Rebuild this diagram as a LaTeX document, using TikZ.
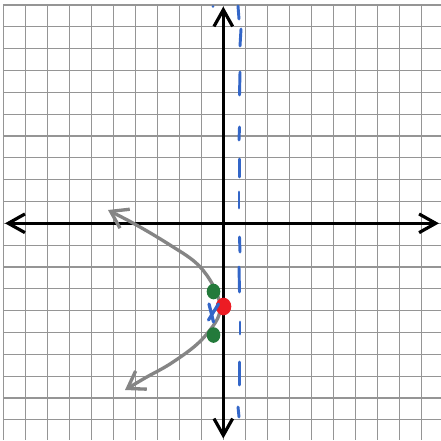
\documentclass[tikz,border=0pt]{standalone}
\usetikzlibrary{arrows.meta}
\definecolor{gridgray}{HTML}{959595}
\definecolor{curvegray}{HTML}{858585}
\definecolor{dotgreen}{HTML}{237A3B}
\definecolor{dotred}{HTML}{EC1C24}
\definecolor{penblue}{HTML}{3366C8}
\tikzset{
  gridline/.style={draw=gridgray, line width=0.9pt},
  axisline/.style={draw=black, line width=2.4pt, -{Straight Barb[length=12.5pt,width=14pt]}},
  curveline/.style={draw=curvegray, line width=2.5pt, line cap=round, line join=round,
    {Straight Barb[length=12pt,width=16pt]}-{Straight Barb[length=12pt,width=16pt]}},
  bluedash/.style={draw=penblue, line width=2.2pt, line cap=round},
  greendot/.style={fill=dotgreen},
  reddot/.style={fill=dotred},
  bluemark/.style={draw=penblue, line width=2.4pt, line cap=round}
}
\begin{document}
\begin{tikzpicture}[x=0.75pt, y=-0.75pt]
\useasboundingbox (0,0) rectangle (441,440);
\fill[white] (0,0) rectangle (441,440);
% grid
\foreach \i in {0,...,19} {
  \draw[gridline] ({3.3+22.02*\i},5) -- ({3.3+22.02*\i},440);
  \draw[gridline] (3.3,{5+21.83*\i}) -- (441,{5+21.83*\i});
}
% axes
\coordinate (o) at (223.3,223.3);
\coordinate (xl) at (5,223.3);
\coordinate (xr) at (439,223.3);
\coordinate (yt) at (223.3,6.5);
\coordinate (yb) at (223.3,438.5);
\draw[axisline] (o) -- (xl);
\draw[axisline] (o) -- (xr);
\draw[axisline] (o) -- (yt);
\draw[axisline] (o) -- (yb);
% dashed blue line (hand drawn)
\foreach \a/\b/\c/\d in {238/6/239/19, 241/29/240/46, 240/72/239.5/95, 239.5/127/239/140,
  239.5/159/239.5/177, 239/192/239/208, 239.5/237/240/252, 239/267/239.5/292,
  240/322/240/334, 239.5/362/239.5/385, 238/407/239/417} {
  \draw[bluedash] (\a,\b) -- (\c,\d);
}
\fill[penblue] (213,6.5) circle (1.3);
% gray curve
\draw[curveline] plot[smooth, tension=0.6] coordinates {
  (108,210) (140,227) (170,245) (195,262) (210,280) (219,300) (219,315)
  (210,330) (195,346) (170,364) (145,378) (125,390)};
% points
\fill[greendot] (213.5,291.5) ellipse (6.8 and 7.8);
\fill[greendot] (213.5,335) ellipse (6.8 and 7.8);
\fill[reddot] (223.5,306.5) ellipse (7.8 and 8.8);
\draw[bluemark] (209,304) -- (213.5,322);
\draw[bluemark] (218.5,304) -- (208.5,320);
\end{tikzpicture}
\end{document}
